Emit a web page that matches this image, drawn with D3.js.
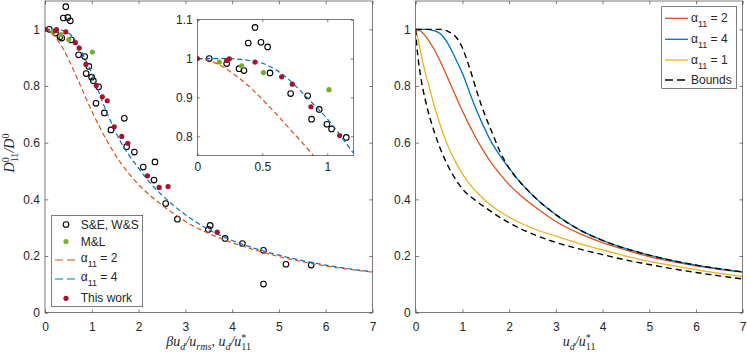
<!DOCTYPE html>
<html><head><meta charset="utf-8">
<script src="https://cdn.jsdelivr.net/npm/d3@7"></script>
<style>
body{margin:0;background:#fff;}
svg{display:block;font-family:"Liberation Sans",Arial,sans-serif;}
</style></head><body><svg id="c" width="747" height="352"></svg>
<script>
// ---------- data ----------
const seX = [0.092,0.226,0.321,0.359,0.392,0.444,0.490,0.541,0.559,0.718,0.849,0.879,0.938,0.997,1.033,1.09,1.146,1.27,1.41,1.695,1.745,1.91,2.10,2.33,2.35,2.58,2.83,3.49,3.53,3.85,4.22,4.67,4.67,5.15,5.69];
const seY = [1.0,0.987,0.974,0.969,1.040,1.080,1.042,1.030,0.963,0.910,0.904,0.844,0.869,0.831,0.819,0.739,0.797,0.705,0.645,0.686,0.586,0.567,0.514,0.468,0.532,0.385,0.330,0.294,0.308,0.262,0.244,0.220,0.101,0.171,0.168];
const mlX = [0.169,0.341,0.508,1.013];
const mlY = [0.991,0.981,0.964,0.920];
const twX = [0,0.226,0.246,0.444,0.649,0.731,0.874,1.095,1.225,1.33,1.48,1.64,1.77,2.19,2.44,2.63,3.68];
const twY = [1.0,0.995,0.999,0.991,0.953,0.934,0.876,0.802,0.762,0.748,0.656,0.622,0.598,0.483,0.442,0.445,0.284];

const a2X = [0,0.1,0.2,0.3,0.4,0.5,0.6,0.7,0.8,0.9,1.0,1.1,1.2,1.4,1.6,1.8,2.0,2.25,2.5,2.75,3.0,3.5,4.0,4.5,5.0,5.5,6.0,6.5,7.0];
const a2Y = [1,0.994,0.978,0.955,0.928,0.895,0.86,0.823,0.786,0.748,0.712,0.677,0.645,0.585,0.533,0.49,0.452,0.413,0.38,0.35,0.322,0.28,0.247,0.221,0.198,0.18,0.165,0.153,0.143];
const a4X = [0,0.2,0.4,0.5,0.6,0.7,0.8,0.9,1.0,1.1,1.2,1.3,1.4,1.6,1.8,2.0,2.25,2.5,2.75,3.0,3.5,4.0,4.5,5.0,5.5,6.0,6.5,7.0];
const a4Y = [1,1,0.995,0.988,0.972,0.947,0.915,0.88,0.845,0.802,0.757,0.715,0.677,0.608,0.555,0.51,0.458,0.415,0.378,0.346,0.293,0.255,0.226,0.203,0.184,0.168,0.155,0.144];
const a1X = [0,0.05,0.1,0.2,0.3,0.4,0.5,0.6,0.7,0.8,0.9,1.0,1.2,1.4,1.6,1.8,2.0,2.5,3.0,3.5,4.0,4.5,5.0,5.5,6.0,6.5,7.0];
const a1Y = [1,0.965,0.925,0.85,0.79,0.728,0.675,0.627,0.585,0.55,0.518,0.49,0.445,0.41,0.38,0.357,0.337,0.298,0.27,0.244,0.222,0.2,0.181,0.166,0.152,0.139,0.128];
const ubX = [0,0.3,0.5,0.6,0.7,0.8,0.9,1.0,1.1,1.2,1.3,1.4,1.5,1.6,1.8,2.0,2.25,2.5,3.0,3.5,4.0,5.0,6.0,7.0];
const ubY = [1,1,1,0.998,0.992,0.982,0.965,0.935,0.89,0.84,0.785,0.735,0.69,0.65,0.57,0.51,0.458,0.415,0.346,0.293,0.255,0.203,0.168,0.144];
const lbX = [0,0.02,0.05,0.1,0.2,0.3,0.4,0.5,0.6,0.7,0.8,1.0,1.25,1.5,2.0,2.5,3.0,3.5,4.0,4.5,5.0,5.5,6.0,6.5,7.0];
const lbY = [1,0.95,0.9,0.84,0.755,0.69,0.637,0.59,0.55,0.515,0.485,0.437,0.4,0.37,0.317,0.278,0.248,0.225,0.205,0.186,0.17,0.155,0.142,0.13,0.119];

const xTicks = [0,1,2,3,4,5,6,7];
const yTicks = [0,0.2,0.4,0.6,0.8,1];
const inXTicks = [0,0.5,1];
const inYTicks = [0.8,0.9,1,1.1];

const C = {orange:"#D95319", blue:"#0072BD", yellow:"#EDB120", red:"#A2142F", green:"#77AC30", axis:"#262626"};

// ---------- helpers ----------
const svg = d3.select("#c");
const zip = (xs, ys) => xs.map((v,i)=>[v, ys[i]]);

function drawAxes(g, x, y, xt, yt, o){
  const [x0,x1] = x.range(), [y0,y1] = y.range();
  const fmt = d => String(d);
  const ax = (sel)=>{ sel.select(".domain").remove(); sel.selectAll("line").attr("stroke",C.axis).attr("stroke-width",0.6);
     sel.selectAll("text").attr("fill",C.axis).attr("font-size","12px").attr("font-family","Liberation Sans, Arial, sans-serif"); };
  g.append("g").attr("transform",`translate(0,${y0})`)
    .call(d3.axisBottom(x).tickValues(xt).tickSizeInner(-o.tl).tickSizeOuter(0).tickPadding(o.xpad).tickFormat(fmt)).call(ax);
  g.append("g").attr("transform",`translate(0,${y1})`)
    .call(d3.axisTop(x).tickValues(xt).tickSizeInner(-o.tl).tickSizeOuter(0).tickFormat("")).call(ax);
  g.append("g").attr("transform",`translate(${x0},0)`)
    .call(d3.axisLeft(y).tickValues(yt).tickSizeInner(-o.tl).tickSizeOuter(0).tickPadding(o.ypad).tickFormat(fmt)).call(ax);
  g.append("g").attr("transform",`translate(${x1},0)`)
    .call(d3.axisRight(y).tickValues(yt).tickSizeInner(-o.tl).tickSizeOuter(0).tickFormat("")).call(ax);
  g.append("rect").attr("x",x0).attr("y",y1).attr("width",x1-x0).attr("height",y0-y1)
    .attr("fill","none").attr("stroke",C.axis).attr("stroke-width",0.6);
}

function addClip(id, x, y){
  const [x0,x1] = x.range(), [y0,y1] = y.range();
  svg.append("clipPath").attr("id",id).append("rect").attr("x",x0).attr("y",y1).attr("width",x1-x0).attr("height",y0-y1);
}

function line(g, x, y, xs, ys, color, dash, w){
  const gen = d3.line().x(d=>x(d[0])).y(d=>y(d[1])).curve(d3.curveMonotoneX);
  g.append("path").datum(zip(xs,ys)).attr("d",gen).attr("fill","none")
    .attr("stroke",color).attr("stroke-width",w).attr("stroke-dasharray",dash||null);
}
function inDomain(x,y,d){ const [a,b]=x.domain(),[c,e]=y.domain(); return d[0]>=a&&d[0]<=b&&d[1]>=c&&d[1]<=e; }
function circles(g,x,y,xs,ys){
  g.selectAll(null).data(zip(xs,ys).filter(d=>inDomain(x,y,d))).enter().append("circle")
   .attr("cx",d=>x(d[0])).attr("cy",d=>y(d[1])).attr("r",2.8).attr("fill","none").attr("stroke","#000").attr("stroke-width",1.1);
}
function dots(g,x,y,xs,ys,color){
  g.selectAll(null).data(zip(xs,ys).filter(d=>inDomain(x,y,d))).enter().append("circle")
   .attr("cx",d=>x(d[0])).attr("cy",d=>y(d[1])).attr("r",2.6).attr("fill",color);
}
// math-like text: pieces [text, level] level 0 normal, 1 sub, 2 sup, 3 sub under previous sup
function mathText(g, pieces, size){
  const t = g.append("text").attr("font-family","Liberation Serif, Times New Roman, serif").attr("font-style","italic")
     .attr("font-size",size+"px").attr("fill",C.axis);
  let cur = 0, lastSup = null;
  const small = size*0.72;
  pieces.forEach(([s,l])=>{
    const off = l===0?0:(l===2?-size*0.38:size*0.3);
    const ts = t.append("tspan").text(s).attr("dy",off-cur).attr("font-size",(l===0?size:small)+"px");
    if(l===0) ts.attr("font-style", /[0-9]/.test(s)?"normal":"italic");
    if(l!==0 && /^[0-9*]+$/.test(s)) ts.attr("font-style","normal");
    if(l===3 && lastSup) ts.attr("dx",-lastSup.node().getComputedTextLength());
    if(l===2) lastSup = ts;
    cur = off;
  });
  return t;
}
function alphaLabel(g, xPos, yPos, val){
  const t = g.append("text").attr("x",xPos).attr("y",yPos).attr("font-size","12px").attr("fill",C.axis)
    .attr("dominant-baseline","central");
  t.append("tspan").text("α");
  t.append("tspan").text("11").attr("font-size","9px").attr("dy",6);
  t.append("tspan").text(" = "+val).attr("dy",-6);
}

// ---------- left panel ----------
const xL = d3.scaleLinear().domain([0,7]).range([45,372.5]);
const yL = d3.scaleLinear().domain([0,1.1]).range([312.7,1]);
addClip("clipL", xL, yL);
const gL = svg.append("g");
const gLd = gL.append("g").attr("clip-path","url(#clipL)");
circles(gLd,xL,yL,seX,seY);
dots(gLd,xL,yL,mlX,mlY,C.green);
line(gLd,xL,yL,a2X,a2Y,C.orange,"5,3",1.2);
line(gLd,xL,yL,a4X,a4Y,C.blue,"5,3",1.2);
dots(gLd,xL,yL,twX,twY,C.red);
drawAxes(gL,xL,yL,xTicks,yTicks,{tl:3.3,xpad:9.5,ypad:5});

// legend left
const lg = svg.append("g");
lg.append("rect").attr("x",51.7).attr("y",215.5).attr("width",91).attr("height",91.2)
  .attr("fill","#fff").attr("stroke",C.axis).attr("stroke-width",0.6);
const rowsL = [224.5,241.5,260,279,298.3];
const tx = 80.7;
lg.append("circle").attr("cx",66).attr("cy",rowsL[0]).attr("r",2.8).attr("fill","none").attr("stroke","#000").attr("stroke-width",1.1);
lg.append("text").attr("x",tx).attr("y",rowsL[0]).attr("dominant-baseline","central").attr("font-size","12px").attr("fill",C.axis).text("S&E, W&S");
lg.append("circle").attr("cx",66).attr("cy",rowsL[1]).attr("r",2.6).attr("fill",C.green);
lg.append("text").attr("x",tx).attr("y",rowsL[1]).attr("dominant-baseline","central").attr("font-size","12px").attr("fill",C.axis).text("M&L");
lg.append("line").attr("x1",55).attr("x2",76).attr("y1",rowsL[2]).attr("y2",rowsL[2]).attr("stroke",C.orange).attr("stroke-width",1.2).attr("stroke-dasharray","8,4");
alphaLabel(lg,tx,rowsL[2]-2,2);
lg.append("line").attr("x1",55).attr("x2",76).attr("y1",rowsL[3]).attr("y2",rowsL[3]).attr("stroke",C.blue).attr("stroke-width",1.2).attr("stroke-dasharray","8,4");
alphaLabel(lg,tx,rowsL[3]-2,4);
lg.append("circle").attr("cx",66).attr("cy",rowsL[4]).attr("r",2.6).attr("fill",C.red);
lg.append("text").attr("x",tx).attr("y",rowsL[4]).attr("dominant-baseline","central").attr("font-size","12px").attr("fill",C.axis).text("This work");

// ---------- inset ----------
const xI = d3.scaleLinear().domain([0,1.2]).range([197.3,353.3]);
const yI = d3.scaleLinear().domain([0.75,1.1]).range([155.7,19.7]);
addClip("clipI", xI, yI);
const gI = svg.append("g");
gI.append("rect").attr("x",197.3).attr("y",19.7).attr("width",156).attr("height",136).attr("fill","#fff");
const gId = gI.append("g").attr("clip-path","url(#clipI)");
circles(gId,xI,yI,seX,seY);
dots(gId,xI,yI,mlX,mlY,C.green);
line(gId,xI,yI,a2X,a2Y,C.orange,"5,3",1.2);
line(gId,xI,yI,a4X,a4Y,C.blue,"5,3",1.2);
dots(gId,xI,yI,twX,twY,C.red);
drawAxes(gI,xI,yI,inXTicks,inYTicks,{tl:2.5,xpad:7,ypad:4.5});

// ---------- right panel ----------
const xR = d3.scaleLinear().domain([0,7]).range([415.7,742.7]);
const yR = d3.scaleLinear().domain([0,1.1]).range([312.7,1]);
addClip("clipR", xR, yR);
const gR = svg.append("g");
const gRd = gR.append("g").attr("clip-path","url(#clipR)");
line(gRd,xR,yR,a2X,a2Y,C.orange,null,1.3);
line(gRd,xR,yR,a4X,a4Y,C.blue,null,1.3);
line(gRd,xR,yR,a1X,a1Y,C.yellow,null,1.3);
line(gRd,xR,yR,ubX,ubY,"#000","6,4",1.4);
line(gRd,xR,yR,lbX,lbY,"#000","6,4",1.4);
drawAxes(gR,xR,yR,xTicks,yTicks,{tl:3.3,xpad:9.5,ypad:5});

// legend right
const lr = svg.append("g");
lr.append("rect").attr("x",661.7).attr("y",6.7).attr("width",75).attr("height",81.6)
  .attr("fill","#fff").attr("stroke",C.axis).attr("stroke-width",0.6);
const rowsR = [18.3,39.3,60,80];
const txR = 691;
[[C.orange,null,2],[C.blue,null,4],[C.yellow,null,1],["#000","8,4",null]].forEach(([col,dash,v],i)=>{
  lr.append("line").attr("x1",665).attr("x2",688).attr("y1",rowsR[i]).attr("y2",rowsR[i])
    .attr("stroke",col).attr("stroke-width",1.3).attr("stroke-dasharray",dash);
  if(v!==null) alphaLabel(lr,txR,rowsR[i],v);
  else lr.append("text").attr("x",txR).attr("y",rowsR[i]).attr("dominant-baseline","central").attr("font-size","12px").attr("fill",C.axis).text("Bounds");
});

// ---------- axis labels ----------
const xlabL = mathText(svg.append("g"), [["β",0],["u",0],["d",1],["/u",0],["rms",1],[", u",0],["d",1],["/u",0],["*",2],["11",3]], 14);
xlabL.attr("x",208.7).attr("y",346).attr("text-anchor","middle");
const xlabR = mathText(svg.append("g"), [["u",0],["d",1],["/u",0],["*",2],["11",3]], 14);
xlabR.attr("x",579.2).attr("y",346).attr("text-anchor","middle");
const ylab = mathText(svg.append("g").attr("transform","translate(14,153) rotate(-90)"), [["D",0],["0",2],["11",3],["/D",0],["0",2]], 14);
ylab.attr("x",0).attr("y",0).attr("text-anchor","middle");
</script></body></html>
